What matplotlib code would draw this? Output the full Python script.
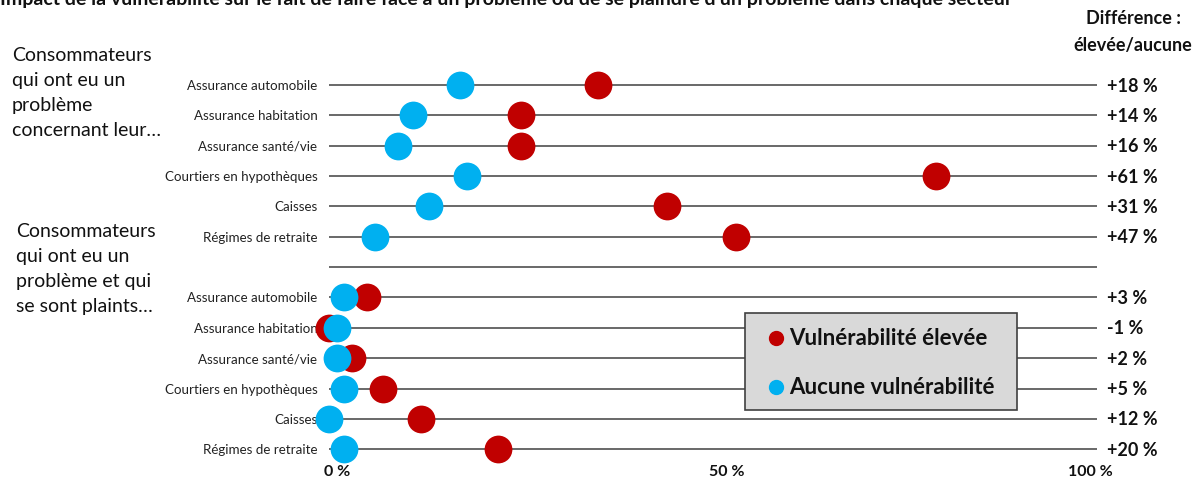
import matplotlib
matplotlib.use("Agg")
import matplotlib.pyplot as plt
from matplotlib.patches import Rectangle
from matplotlib.transforms import ScaledTranslation

plt.rcParams['font.family'] = ['Lato', 'DejaVu Sans']

# Sectors, shown twice: consumers who had a problem, then those who complained
sectors = ["Assurance automobile", "Assurance habitation", "Assurance santé/vie",
           "Courtiers en hypothèques", "Caisses", "Régimes de retraite"]

# Share of consumers (%) – high vulnerability vs. no vulnerability
probleme_eleve = [35, 25, 25, 79, 44, 53]
probleme_aucune = [17, 11, 9, 18, 13, 6]
plainte_eleve = [5, 0, 3, 7, 12, 22]
plainte_aucune = [2, 1, 1, 2, 0, 2]

x_ticks = [0, 50, 100]
x_tick_labels = ["0 %", "50 %", "100 %"]

RED = "#C00000"
BLUE = "#00B0F0"
LINE = "#404040"
INK = "#111111"

W, H = 1203, 481
fig = plt.figure(figsize=(W / 100, H / 100), dpi=100)

# Main dot plot
ax = fig.add_axes([329 / W, 1 - 465.4 / H, 768 / W, 394.5 / H])
ax.patch.set_visible(False)
ax.set_xlim(0, 100)
ax.set_ylim(12.5, -0.5)
for s in ax.spines.values():
    s.set_visible(False)
ax.set_yticks([])
ax.set_xticks(x_ticks)
ax.set_xticklabels(x_tick_labels, fontsize=11.5, fontweight="bold", color=INK)
ax.tick_params(axis="x", length=0, pad=0)
# nudge the tick labels slightly, as in the original layout
for lbl, dx in zip(ax.get_xticklabels(), [8, 14, -7]):
    lbl.set_transform(lbl.get_transform() + ScaledTranslation(dx / 100, 0, fig.dpi_scale_trans))

rows_top = list(range(6))
rows_bot = list(range(7, 13))
all_rows = rows_top + [6] + rows_bot
ax.hlines(all_rows, 0, 100, color=LINE, lw=1.1, zorder=1)

eleve = probleme_eleve + plainte_eleve
aucune = probleme_aucune + plainte_aucune
rows = rows_top + rows_bot
labels = sectors + sectors

ax.scatter(eleve, rows, s=400, color=RED, zorder=3, clip_on=False, linewidths=0)
ax.scatter(aucune, rows, s=400, color=BLUE, zorder=4, clip_on=False, linewidths=0)

for r, lab, e, a in zip(rows, labels, eleve, aucune):
    ax.text(-1.5, r, lab, ha="right", va="center", fontsize=9.6, color="#222222",
            zorder=2, clip_on=False)
    d = e - a
    ax.text(101.3, r, f"{d:+d} %", ha="left", va="center", fontsize=13,
            fontweight="bold", color=INK, clip_on=False)

# Overlay for free text, in pixel coordinates
ov = fig.add_axes([0, 0, 1, 1])
ov.set_xlim(0, W)
ov.set_ylim(H, 0)
ov.axis("off")

ov.text(0, 5, "Impact de la vulnérabilité sur le fait de faire face à un problème "
        "ou de se plaindre d'un problème dans chaque secteur",
        ha="left", va="baseline", fontsize=14, fontweight="bold", color=INK)
ov.text(1133, 18, "Différence :", ha="center", va="center", fontsize=13,
        fontweight="bold", color=INK)
ov.text(1133, 45, "élevée/aucune", ha="center", va="center", fontsize=13,
        fontweight="bold", color=INK)

ov.text(12, 47, "Consommateurs\nqui ont eu un\nproblème\nconcernant leur…",
        ha="left", va="top", fontsize=14, linespacing=1.57, color=INK)
ov.text(16, 223, "Consommateurs\nqui ont eu un\nproblème et qui\nse sont plaints…",
        ha="left", va="top", fontsize=14, linespacing=1.57, color=INK)

# Legend box
ov.add_patch(Rectangle((745, 314), 272, 97, facecolor="#D9D9D9",
                       edgecolor="#404040", lw=1.2, zorder=5))
ov.plot([776], [339], "o", color=RED, ms=10, zorder=6)
ov.plot([776], [388], "o", color=BLUE, ms=10, zorder=6)
ov.text(789, 339, "Vulnérabilité élevée", ha="left", va="center", fontsize=16,
        fontweight="bold", color=INK, zorder=6)
ov.text(789, 388, "Aucune vulnérabilité", ha="left", va="center", fontsize=16,
        fontweight="bold", color=INK, zorder=6)

fig.savefig("out.png", dpi=100)
